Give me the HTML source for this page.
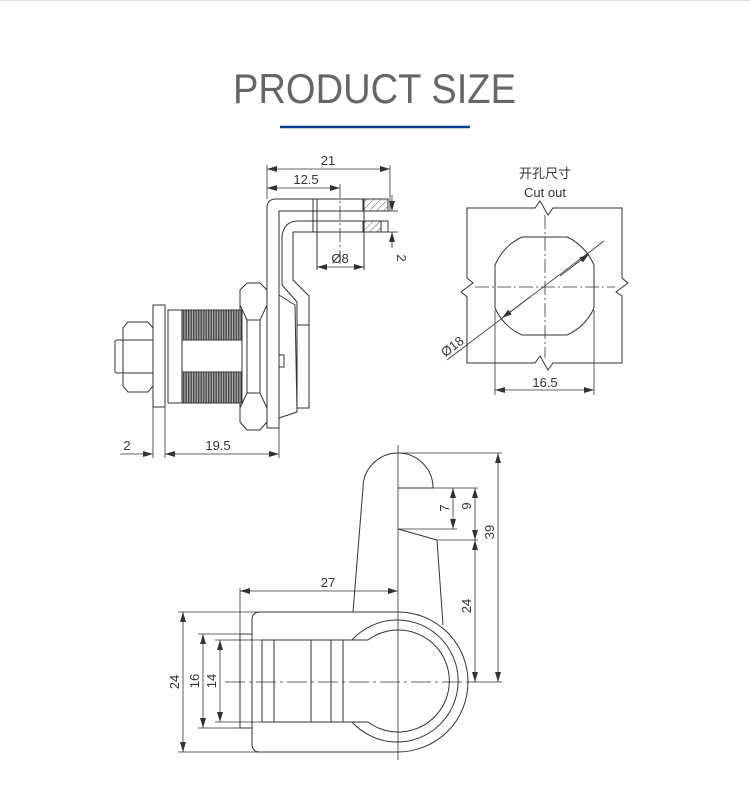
<!DOCTYPE html>
<html><head><meta charset="utf-8"><style>
html,body{margin:0;padding:0;background:#fff;}
svg{display:block;}
text{font-family:"Liberation Sans","Noto Sans CJK SC",sans-serif;fill:#333;}
</style></head><body>
<svg width="750" height="790" viewBox="0 0 750 790" xmlns="http://www.w3.org/2000/svg">
<defs>
<marker id="a" viewBox="0 0 10 6" refX="10" refY="3" markerWidth="10" markerHeight="6" orient="auto-start-reverse" markerUnits="userSpaceOnUse"><path d="M0,0 L10,3 L0,6z" fill="#333"/></marker>
<pattern id="th" width="2.5" height="4" patternUnits="userSpaceOnUse"><rect width="2.5" height="4" fill="#aaa"/><line x1="1.2" y1="0" x2="1.2" y2="4" stroke="#444" stroke-width="1.3"/></pattern>
<pattern id="ht" width="5" height="5" patternUnits="userSpaceOnUse" patternTransform="rotate(45)"><line x1="0" y1="0" x2="0" y2="5" stroke="#555" stroke-width="1"/></pattern>
</defs>
<line x1="0" y1="0.5" x2="750" y2="0.5" stroke="#ddd"/>
<text x="233" y="103" font-size="42" textLength="283" lengthAdjust="spacingAndGlyphs" style="fill:#666">PRODUCT SIZE</text>
<line x1="280" y1="127" x2="470" y2="127" stroke="#0a3d8f" stroke-width="2.5"/>

<g fill="none" stroke="#333" stroke-width="1">
<!-- TOP VIEW -->
<path d="M267,428 L267,208 Q267,199 276,199 L388,199 L388,211 L279,211 L279,428 Z" fill="#fff"/>
<rect x="363" y="199" width="25" height="12" fill="url(#ht)"/>
<path d="M298,221 L388,221 L388,232 L293,232 L293,280 L309,296 L309,325 L297,325 L297,302 L282,285 L282,236 Q284,221 298,221 Z" fill="#fff"/>
<rect x="363" y="221" width="18" height="11" fill="url(#ht)"/>
<line x1="313" y1="199" x2="313" y2="232"/><line x1="317" y1="199" x2="317" y2="270"/>
<line x1="364" y1="199" x2="364" y2="270"/>
<path d="M279,295 L295,305 L297,412 L279,418 Z" fill="#fff"/>
<rect x="297" y="325" width="12" height="83"/>
<rect x="279" y="355" width="5" height="12"/>
<path d="M240,290 L247,283 L260,283 L267,290 L267,422 L260,430 L247,430 L240,422 Z" fill="#fff"/>
<path d="M240,305 L247,320 L260,320 L267,305 M240,408 L247,393 L260,393 L267,408 M247,320 L247,393 M260,320 L260,393"/>
<rect x="168" y="310" width="74" height="93" fill="#fff"/>
<rect x="182" y="310" width="60" height="30" fill="url(#th)"/>
<rect x="182" y="372" width="60" height="31" fill="url(#th)"/>
<line x1="182" y1="310" x2="182" y2="403"/>
<rect x="153" y="305" width="12" height="102" fill="#fff"/>
<rect x="115" y="340" width="8" height="33" rx="2" fill="#fff"/>
<path d="M123,328 L128,322 L148,322 L153,328 L153,386 L148,392 L128,392 L123,386 Z" fill="#fff"/>
<path d="M123,340 L153,340 M123,373 L153,373"/>
<g stroke-width="0.8">
<line x1="267" y1="165" x2="267" y2="199"/><line x1="390" y1="165" x2="390" y2="211"/>
<line x1="267" y1="169" x2="390" y2="169" marker-start="url(#a)" marker-end="url(#a)"/>
<line x1="267" y1="188" x2="340" y2="188" marker-start="url(#a)" marker-end="url(#a)"/>
<line x1="340" y1="184" x2="340" y2="265" stroke-dasharray="14,3,2,3"/>
<line x1="317" y1="267" x2="364" y2="267" marker-start="url(#a)" marker-end="url(#a)"/>
<line x1="388" y1="211" x2="398" y2="211"/><line x1="388" y1="232" x2="398" y2="232"/>
<line x1="392" y1="195" x2="392" y2="211" marker-end="url(#a)"/>
<line x1="392" y1="248" x2="392" y2="232" marker-end="url(#a)"/>
<line x1="153" y1="407" x2="153" y2="458"/><line x1="165" y1="407" x2="165" y2="458"/><line x1="279" y1="428" x2="279" y2="458"/>
<line x1="120" y1="454" x2="153" y2="454" marker-end="url(#a)"/>
<line x1="165" y1="454" x2="279" y2="454" marker-start="url(#a)" marker-end="url(#a)"/>
</g>

<!-- CUTOUT -->
<path d="M467,208 L535,208 L540,201 L548,215 L553,208 L622,208 L622,278 L628,283 L616,292 L622,296 L622,363 L553,363 L548,370 L540,356 L535,363 L467,363 L467,297 L461,292 L473,283 L467,278 Z"/>
<path d="M522,237 L567,237 A54,54 0 0 1 594,265 L594,308 A54,54 0 0 1 567,335 L522,335 A54,54 0 0 1 495,308 L495,265 A54,54 0 0 1 522,237 Z"/>
<g stroke-width="0.8">
<line x1="475" y1="287" x2="615" y2="287" stroke-dasharray="14,3,2,3"/>
<line x1="545" y1="215" x2="545" y2="358" stroke-dasharray="14,3,2,3"/>
<line x1="447" y1="360" x2="604" y2="241"/>
<line x1="530" y1="297" x2="502" y2="318" marker-end="url(#a)"/>
<line x1="560" y1="276" x2="589" y2="254" marker-end="url(#a)"/>
<line x1="495" y1="310" x2="495" y2="395"/><line x1="594" y1="310" x2="594" y2="395"/>
<line x1="495" y1="390" x2="594" y2="390" marker-start="url(#a)" marker-end="url(#a)"/>
</g>

<!-- BOTTOM VIEW -->
<path d="M363,488 A35,35 0 0 1 433,488 L398,488"/>
<path d="M363,488 L353,612"/>
<path d="M398,529 L437,540 L443,625"/>
<path d="M260,612 L398,612 A70,70 0 0 1 398,752 L260,752 Q252,752 252,744 L252,620 Q252,612 260,612 Z"/>
<path d="M352,640 A61,61 0 1 1 352,722"/>
<path d="M368,640 A51,51 0 1 1 368,722"/>
<path d="M262,640 L368,640 M262,722 L368,722"/>
<path d="M262,640 L262,722 M274,640 L274,722 M311,640 L311,722 M331,640 L331,722 M343,640 L343,722"/>
<rect x="240" y="634" width="12" height="94"/>
<g stroke-width="0.8">
<line x1="398" y1="445" x2="398" y2="760"/>
<line x1="225" y1="682" x2="475" y2="682" stroke-dasharray="20,4,3,4"/>
<line x1="240" y1="588" x2="240" y2="634"/>
<line x1="240" y1="591" x2="398" y2="591" marker-start="url(#a)" marker-end="url(#a)"/>
<line x1="178" y1="612" x2="260" y2="612"/><line x1="178" y1="752" x2="260" y2="752"/>
<line x1="183" y1="612" x2="183" y2="752" marker-start="url(#a)" marker-end="url(#a)"/>
<line x1="198" y1="634" x2="240" y2="634"/><line x1="198" y1="728" x2="240" y2="728"/>
<line x1="203" y1="634" x2="203" y2="728" marker-start="url(#a)" marker-end="url(#a)"/>
<line x1="215" y1="640" x2="262" y2="640"/><line x1="215" y1="722" x2="262" y2="722"/>
<line x1="220" y1="640" x2="220" y2="722" marker-start="url(#a)" marker-end="url(#a)"/>
<line x1="398" y1="453" x2="502" y2="453"/>
<line x1="433" y1="488" x2="478" y2="488"/>
<line x1="398" y1="529" x2="457" y2="529"/>
<line x1="437" y1="540" x2="478" y2="540"/>
<line x1="468" y1="682" x2="502" y2="682"/>
<line x1="453" y1="488" x2="453" y2="529" marker-start="url(#a)" marker-end="url(#a)"/>
<line x1="475" y1="488" x2="475" y2="540" marker-start="url(#a)" marker-end="url(#a)"/>
<line x1="475" y1="540" x2="475" y2="682" marker-start="url(#a)" marker-end="url(#a)"/>
<line x1="498" y1="453" x2="498" y2="682" marker-start="url(#a)" marker-end="url(#a)"/>
</g>
</g>

<g font-size="13">
<text x="328" y="165" text-anchor="middle">21</text>
<text x="306" y="184" text-anchor="middle">12.5</text>
<text x="340" y="263" text-anchor="middle">Ø8</text>
<text transform="translate(397,258) rotate(90)" text-anchor="middle">2</text>
<text x="127" y="450" text-anchor="middle">2</text>
<text x="218" y="450" text-anchor="middle">19.5</text>
<text x="545" y="178" text-anchor="middle">开孔尺寸</text>
<text x="545" y="197" text-anchor="middle">Cut out</text>
<text transform="translate(455,350) rotate(-37)" text-anchor="middle">Ø18</text>
<text x="545" y="387" text-anchor="middle">16.5</text>
<text x="328" y="587" text-anchor="middle">27</text>
<text transform="translate(179,682) rotate(-90)" text-anchor="middle">24</text>
<text transform="translate(199,681) rotate(-90)" text-anchor="middle">16</text>
<text transform="translate(216,681) rotate(-90)" text-anchor="middle">14</text>
<text transform="translate(449,508) rotate(-90)" text-anchor="middle">7</text>
<text transform="translate(471,506) rotate(-90)" text-anchor="middle">9</text>
<text transform="translate(471,606) rotate(-90)" text-anchor="middle">24</text>
<text transform="translate(494,532) rotate(-90)" text-anchor="middle">39</text>
</g>
</svg>
</body></html>
